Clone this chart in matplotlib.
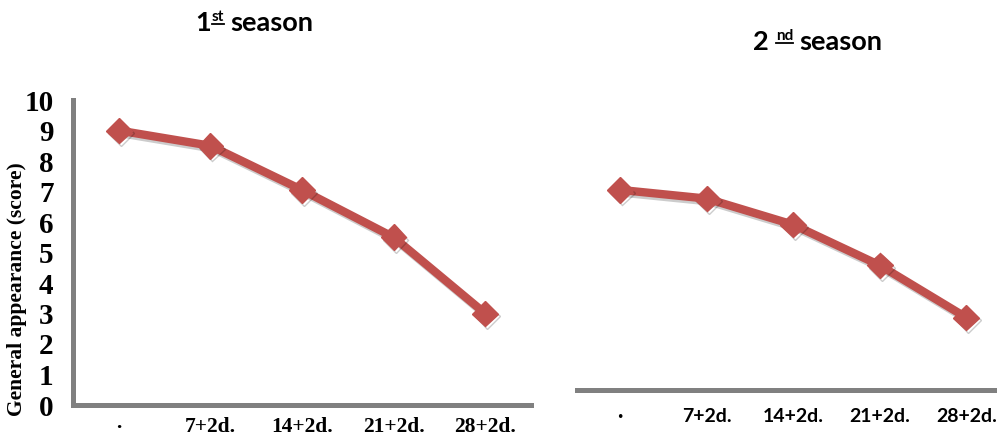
import matplotlib
matplotlib.use("Agg")
import matplotlib.pyplot as plt
import matplotlib.patheffects as pe
from matplotlib.lines import Line2D

categories = ["\u00b7", "7+2d.", "14+2d.", "21+2d.", "28+2d."]
season1 = [9.0, 8.5, 7.05, 5.5, 3.0]
season2 = [6.9, 6.6, 5.7, 4.3, 2.5]
yticks = list(range(0, 11))

RED = "#C0504D"
GREY = "#808080"
SERIF = "Liberation Serif"
SANS = "Lato"

W, H = 997, 441
fig = plt.figure(figsize=(W / 100, H / 100), dpi=100)

def px_axes(left, top, right, bottom):
    return [left / W, (H - bottom) / H, (right - left) / W, (bottom - top) / H]

line_kw = dict(color=RED, lw=6.0, marker="D", ms=13, mfc=RED, mec=RED,
               path_effects=[pe.SimpleLineShadow(offset=(1.5, -2), alpha=0.2, shadow_color="black"),
                             pe.Normal()])

# Left panel
ax1 = fig.add_axes(px_axes(73, 100, 531, 405))
x = list(range(len(categories)))
ax1.plot(x, season1, **line_kw)
ax1.set_xlim(-0.5, 4.5)
ax1.set_ylim(0, 10)
ax1.set_yticks(yticks)
ax1.set_yticklabels([str(t) for t in yticks], fontfamily=SERIF, fontweight="bold", fontsize=21)
ax1.set_xticks(x)
ax1.set_xticklabels(categories, fontfamily=SERIF, fontweight="bold", fontsize=15.5)
ax1.tick_params(axis="both", length=0)
ax1.tick_params(axis="y", pad=14)
ax1.tick_params(axis="x", pad=9)
for s in ["top", "right"]:
    ax1.spines[s].set_visible(False)
for s in ["left", "bottom"]:
    ax1.spines[s].set_color(GREY)
    ax1.spines[s].set_linewidth(3.6)
ax1.patch.set_alpha(0)

fig.text(17 / W, (H - 289) / H, "General appearance (score)", rotation=90,
         ha="center", va="center", fontfamily=SERIF, fontweight="bold", fontsize=15.5)

# Right panel
ax2 = fig.add_axes(px_axes(577, 100, 577 + 432.5, 390))
ax2.plot(x, season2, **line_kw)
ax2.set_xlim(-0.5, 4.5)
ax2.set_ylim(0, 10)
ax2.set_yticks([])
ax2.set_xticks(x)
ax2.set_xticklabels(categories, fontfamily=SANS, fontweight="bold", fontsize=14)
ax2.tick_params(axis="x", length=0, pad=13)
for s in ["top", "right", "left"]:
    ax2.spines[s].set_visible(False)
ax2.spines["bottom"].set_color(GREY)
ax2.spines["bottom"].set_linewidth(3.6)
ax2.patch.set_alpha(0)

# Titles with underlined superscripts
renderer = fig.canvas.get_renderer()

def title(x_left_px, baseline_px, main, sup, rest, gap_px=0):
    fs = 19.5
    t1 = fig.text(x_left_px / W, (H - baseline_px) / H, main, fontfamily=SANS,
                  fontweight="bold", fontsize=fs, va="baseline", ha="left")
    bb1 = t1.get_window_extent(renderer)
    sx = bb1.x1 + 1 + gap_px
    sy = (H - baseline_px) + 10
    t2 = fig.text(sx / W, sy / H, sup, fontfamily=SANS, fontweight="bold",
                  fontsize=11, va="baseline", ha="left")
    bb2 = t2.get_window_extent(renderer)
    fig.add_artist(Line2D([bb2.x0 / W, bb2.x1 / W], [(sy - 3) / H, (sy - 3) / H],
                          color="black", lw=1.3, transform=fig.transFigure))
    t3 = fig.text((bb2.x1 + 6) / W, (H - baseline_px) / H, rest, fontfamily=SANS,
                  fontweight="bold", fontsize=fs, va="baseline", ha="left")

title(195, 31, "1", "st", "season")
title(753, 50, "2", "nd", "season", gap_px=6)

fig.savefig("out.png", dpi=100)
